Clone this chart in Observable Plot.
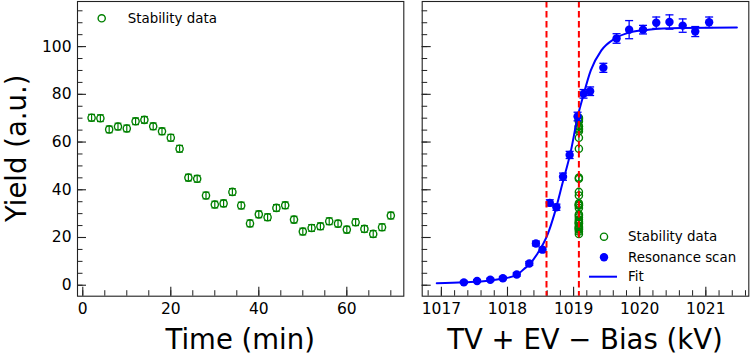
<!DOCTYPE html>
<html><head><meta charset="utf-8">
<script src="https://cdn.jsdelivr.net/npm/d3@7"></script>
<script src="https://cdn.jsdelivr.net/npm/@observablehq/plot@0.6"></script>
<style>
html,body{margin:0;padding:0;background:#fff;}
#root{position:relative;width:750px;height:356px;overflow:hidden;background:#fff;font-family:"DejaVu Sans",sans-serif;}
#root > div.p{position:absolute;top:0;}
#overlay{position:absolute;left:0;top:0;}
</style></head><body>
<div id="root"></div>
<script>
// ---- data ----
const stabTime  = [2,4,6,8,10,12,14,16,18,20,22,24,26,28,30,32,34,36,38,40,42,44,46,48,50,52,54,56,58,60,62,64,66,68,70];
const stabYield = [70.2,70.0,65.3,66.5,65.7,68.7,69.3,66.6,64.5,61.8,57.2,45.1,44.6,37.6,33.8,34.3,39.1,33.4,25.9,29.7,28.5,32.4,33.5,27.5,22.5,24.0,24.7,26.8,25.8,23.3,26.4,23.6,21.5,24.3,29.2];
const stabErr   = [1.4,1.4,1.4,1.4,1.4,1.4,1.4,1.4,1.4,1.4,1.4,1.4,1.4,1.4,1.4,1.4,1.4,1.4,1.4,1.4,1.4,1.4,1.4,1.4,1.4,1.4,1.4,1.4,1.4,1.4,1.4,1.4,1.4,1.4,1.4];
const stabVoltage = 1019.08;

const scanV     = [1017.34,1017.54,1017.74,1017.93,1018.14,1018.33,1018.43,1018.53,1018.64,1018.74,1018.84,1018.94,1019.06,1019.15,1019.25,1019.45,1019.65,1019.84,1020.05,1020.25,1020.45,1020.65,1020.84,1021.05];
const scanYield = [1.2,1.8,2.3,2.9,4.5,9.1,17.5,14.9,34.5,32.7,45.5,54.6,70.7,80.2,81.3,91.1,103.4,107.1,107.1,110.0,110.3,108.8,106.3,110.2];
const scanErr   = [0.5,0.5,0.6,0.6,0.7,0.8,1.0,1.0,1.3,1.3,1.5,1.5,1.8,1.8,1.8,1.9,2.0,3.8,1.8,2.4,3.0,2.8,2.1,2.2];

const fitV     = [1016.93,1017.34,1017.74,1017.94,1018.14,1018.25,1018.34,1018.45,1018.61,1018.71,1018.83,1018.96,1019.06,1019.14,1019.26,1019.42,1019.62,1019.87,1020.13,1020.63,1021.47];
const fitYield = [0.8,1.2,2.0,2.8,4.3,6.8,9.0,13.1,21.5,29.9,42.5,56.4,70.4,78.8,90.0,98.4,103.3,106.1,107.1,107.8,108.0];

const markerV = [1018.59, 1019.08];

const yTicks      = [0,20,40,60,80,100];
const timeTicks   = [0,20,40,60];
const voltTicks   = [1017,1018,1019,1020,1021];

// ---- tables ----
const stab = stabTime.map((t,i)=>({t, y:stabYield[i], e:stabErr[i]}));
const stabR = stabYield.map((y,i)=>({v:stabVoltage, y, e:stabErr[i]}));
const scan = scanV.map((v,i)=>({v, y:scanYield[i], e:scanErr[i]}));
const fit = fitV.map((v,i)=>({v, y:fitYield[i]}));

const yMinor = d3.range(0,116,5);
const timeMinor = d3.range(0,71,5);
const voltMinor = d3.range(0,25).map(i=>+(1016.8+0.2*i).toFixed(1));

const capSym = {draw(ctx,size){const w=Math.sqrt(size/Math.PI);ctx.moveTo(-w,0);ctx.lineTo(w,0);}};

const H = 356, mTop = 1, mBot = 60.3;
const innerH = H - mTop - mBot;
const yDomain = [-4.6, 118.9];
const axisColor = "#222";
const font = {fontFamily:"DejaVu Sans, sans-serif", fontSize:"15.5px", background:"transparent", color:"#000"};

const GREEN = "#008000", BLUE = "#0000ff", RED = "#ff0000";

// ---- left panel ----
const LW = 412, lML = 77, lMR = 8.7, lInnerW = LW - lML - lMR;
const left = Plot.plot({
  width: LW, height: H,
  marginLeft: lML, marginRight: lMR, marginTop: mTop, marginBottom: mBot,
  style: font,
  x: {domain: [-1.2, 72.95], axis: null, label: null},
  y: {domain: yDomain, axis: null, label: null},
  marks: [
    Plot.tickX(timeMinor, {x: d=>d, insetTop: innerH - 5.5, stroke: axisColor, strokeWidth: 1}),
    Plot.tickX(timeTicks, {x: d=>d, insetTop: innerH - 9, stroke: axisColor, strokeWidth: 1.1}),
    Plot.tickY(yMinor, {y: d=>d, insetRight: lInnerW - 5.5, stroke: axisColor, strokeWidth: 1}),
    Plot.tickY(yTicks, {y: d=>d, insetRight: lInnerW - 9, stroke: axisColor, strokeWidth: 1.1}),
    Plot.axisX(timeTicks, {tickSize: 0, tickPadding: 7, label: null, tickFormat: d=>String(d), fontSize: 15.5}),
    Plot.axisY(yTicks, {tickSize: 0, tickPadding: 6, label: null, tickFormat: d=>String(d), fontSize: 15.5}),
    Plot.ruleX(stab, {x: "t", y1: d=>d.y-d.e, y2: d=>d.y+d.e, stroke: GREEN, strokeWidth: 1.2}),
    Plot.dot(stab, {x: "t", y: d=>d.y+d.e, r: 3.4, symbol: capSym, stroke: GREEN, strokeWidth: 1.2}),
    Plot.dot(stab, {x: "t", y: d=>d.y-d.e, r: 3.4, symbol: capSym, stroke: GREEN, strokeWidth: 1.2}),
    Plot.dot(stab, {x: "t", y: "y", r: 3.6, stroke: GREEN, strokeWidth: 1.4, fill: "none"}),
    Plot.frame({stroke: axisColor, strokeWidth: 1.1})
  ]
});

// ---- right panel ----
const RX = 412, RW = 338, rML = 9.7, rMR = 1.7, rInnerW = RW - rML - rMR;
const right = Plot.plot({
  width: RW, height: H,
  marginLeft: rML, marginRight: rMR, marginTop: mTop, marginBottom: mBot,
  style: font,
  x: {domain: [1016.71, 1021.65], axis: null, label: null},
  y: {domain: yDomain, axis: null, label: null},
  marks: [
    Plot.tickX(voltMinor, {x: d=>d, insetTop: innerH - 5.5, stroke: axisColor, strokeWidth: 1}),
    Plot.tickX(voltTicks, {x: d=>d, insetTop: innerH - 9, stroke: axisColor, strokeWidth: 1.1}),
    Plot.tickY(yMinor, {y: d=>d, insetRight: rInnerW - 5.5, stroke: axisColor, strokeWidth: 1}),
    Plot.tickY(yTicks, {y: d=>d, insetRight: rInnerW - 9, stroke: axisColor, strokeWidth: 1.1}),
    Plot.axisX(voltTicks, {tickSize: 0, tickPadding: 7, label: null, tickFormat: d=>String(d), fontSize: 15.5}),
    Plot.ruleX(stabR, {x: "v", y1: d=>d.y-d.e, y2: d=>d.y+d.e, stroke: GREEN, strokeWidth: 1.2}),
    Plot.dot(stabR, {x: "v", y: "y", r: 3.6, stroke: GREEN, strokeWidth: 1.4, fill: "none"}),
    Plot.ruleX(scan, {x: "v", y1: d=>d.y-d.e, y2: d=>d.y+d.e, stroke: BLUE, strokeWidth: 1.3}),
    Plot.dot(scan, {x: "v", y: d=>d.y+d.e, r: 4, symbol: capSym, stroke: BLUE, strokeWidth: 1.3}),
    Plot.dot(scan, {x: "v", y: d=>d.y-d.e, r: 4, symbol: capSym, stroke: BLUE, strokeWidth: 1.3}),
    Plot.dot(scan, {x: "v", y: "y", r: 4.2, fill: BLUE, stroke: "none"}),
    Plot.line(fit, {x: "v", y: "y", stroke: BLUE, strokeWidth: 2, curve: "monotone-x"}),
    Plot.ruleX(markerV, {x: d=>d, stroke: RED, strokeWidth: 2, strokeDasharray: "6.5,3.5"}),
    Plot.frame({stroke: axisColor, strokeWidth: 1.1})
  ]
});

const root = document.getElementById("root");
const d1 = document.createElement("div"); d1.className = "p"; d1.style.left = "0px"; d1.appendChild(left); root.appendChild(d1);
const d2 = document.createElement("div"); d2.className = "p"; d2.style.left = RX + "px"; d2.appendChild(right); root.appendChild(d2);

// ---- overlay: axis titles & legends ----
const svg = d3.select(root).append("svg").attr("id","overlay").attr("width",750).attr("height",356)
  .style("font-family","DejaVu Sans, sans-serif");
const T = (x,y,txt,size,anchor="start",extra)=>{const t=svg.append("text").attr("x",x).attr("y",y).attr("font-size",size).attr("text-anchor",anchor).attr("fill","#000").text(txt); if(extra) extra(t); return t;};
T(240.2, 348.5, "Time (min)", 27.5, "middle");
T(585, 348.5, "TV + EV \u2212 Bias (kV)", 27.5, "middle");
T(0, 0, "Yield (a.u.)", 27.5, "middle", t=>t.attr("transform","translate(26,148.3) rotate(-90)"));

// left legend
svg.append("circle").attr("cx",101.7).attr("cy",18.3).attr("r",3.6).attr("fill","none").attr("stroke",GREEN).attr("stroke-width",1.4);
T(127.7, 18.3, "Stability data", 13.4, "start", t=>t.attr("dominant-baseline","central"));
// right legend
svg.append("circle").attr("cx",604).attr("cy",236.7).attr("r",3.6).attr("fill","none").attr("stroke",GREEN).attr("stroke-width",1.4);
T(628, 236.7, "Stability data", 13.4, "start", t=>t.attr("dominant-baseline","central"));
svg.append("circle").attr("cx",604).attr("cy",257.3).attr("r",4.2).attr("fill",BLUE);
T(628, 257.3, "Resonance scan", 13.4, "start", t=>t.attr("dominant-baseline","central"));
svg.append("line").attr("x1",589).attr("x2",617).attr("y1",276.7).attr("y2",276.7).attr("stroke",BLUE).attr("stroke-width",2);
T(628, 276.7, "Fit", 13.4, "start", t=>t.attr("dominant-baseline","central"));
</script>
</body></html>
